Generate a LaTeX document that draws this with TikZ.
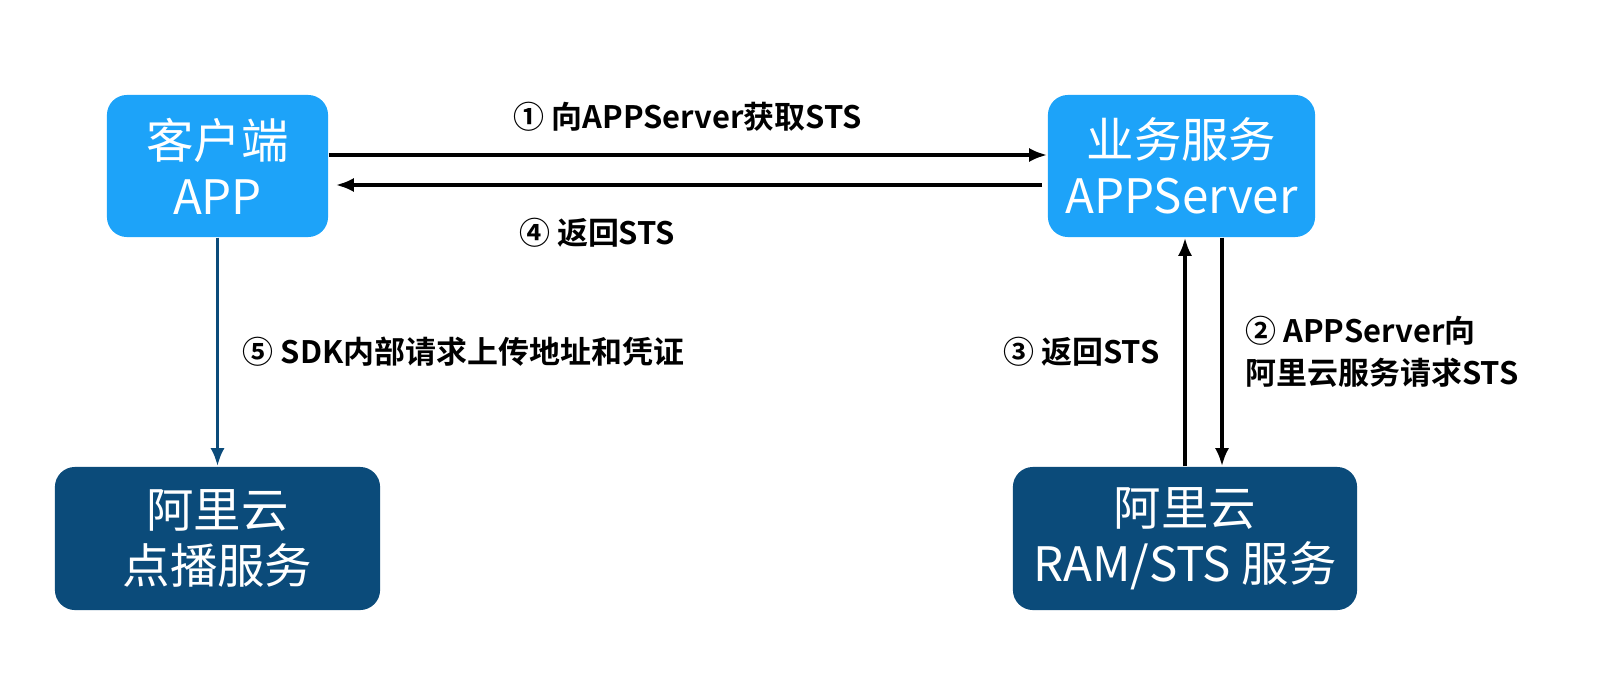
\documentclass[tikz,border=0pt]{standalone}
\usepackage{fontspec}
\setmainfont{Noto Sans CJK SC}
\newfontfamily\cjkb{Noto Sans CJK SC Bold}
\begin{document}
\begin{tikzpicture}[x=0.01cm,y=-0.01cm,
 box/.style={rounded corners=0.2cm,text=white,align=center,font=\fontsize{13.5}{16}\selectfont,inner sep=0pt},
 lb/.style={fill=lbc},db/.style={fill=dbc},
 arr/.style={-{Latex[length=0.18cm,width=0.14cm]},line width=1pt},
 lab/.style={font=\cjkb\fontsize{8.8}{12}\selectfont,align=left}]
\usetikzlibrary{arrows.meta}
\definecolor{lbc}{HTML}{1DA3F9}\definecolor{dbc}{HTML}{0B4B7A}
\useasboundingbox (0,0) rectangle (1624,688);
\node[box,lb,minimum width=2.21cm,minimum height=1.42cm] (app) at (217.5,166) {客户端\\APP};
\node[box,lb,minimum width=2.67cm,minimum height=1.42cm] (srv) at (1181.5,166) {业务服务\\APPServer};
\node[box,db,minimum width=3.25cm,minimum height=1.43cm] (vod) at (217.5,538.5) {阿里云\\点播服务};
\node[box,db,minimum width=3.44cm,minimum height=1.43cm] (ram) at (1185,538.5) {阿里云\\RAM/STS 服务};
\draw[arr] (app.east|-0,155) -- (srv.west|-0,155) node[midway,above=0.1cm,lab]{① 向APPServer获取STS};
\draw[arr] ([xshift=-0.05cm]srv.west|-0,185) -- ([xshift=0.07cm]app.east|-0,185) node[pos=0.63,below=0.2cm,lab]{④ 返回STS};
\draw[arr,draw=dbc] (app.south) -- (vod.north) node[midway,right=0.12cm,lab]{⑤ SDK内部请求上传地址和凭证};
\draw[arr] (ram.north-|1185,0) -- (srv.south-|1185,0) node[midway,left=0.12cm,lab]{③ 返回STS};
\draw[arr] (srv.south-|1222,0) -- (ram.north-|1222,0) node[midway,right=0.1cm,lab]{② APPServer向\\阿里云服务请求STS};
\end{tikzpicture}
\end{document}
